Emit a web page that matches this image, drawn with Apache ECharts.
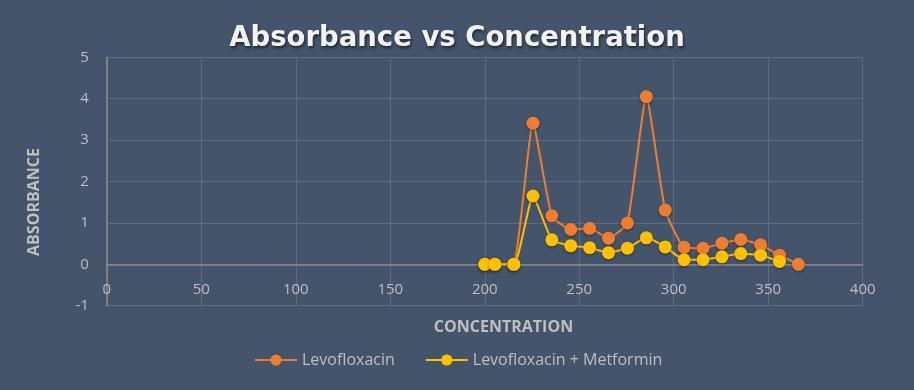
<!DOCTYPE html>
<html><head><meta charset="utf-8">
<script src="https://cdn.jsdelivr.net/npm/echarts@6/dist/echarts.min.js"></script>
<style>html,body{margin:0;padding:0;background:#44546A;}#c{width:914px;height:390px;}</style>
</head><body><div id="c"></div>
<script>
const levoX = [200, 205, 215, 225.5, 235.5, 245.5, 255.5, 265.5, 275.5, 285.5, 295.5, 305.5, 315.5, 325.5, 335.5, 346, 356, 366];
const levoY = [0, 0, 0, 3.41, 1.17, 0.84, 0.87, 0.63, 1.00, 4.05, 1.31, 0.41, 0.39, 0.51, 0.60, 0.47, 0.22, 0.0];
const metX = [200, 205.5, 215.5, 225.5, 235.5, 245.5, 255.5, 265.5, 275.5, 285.5, 295.5, 305.5, 315.5, 325.5, 335.5, 346, 356];
const metY = [0, 0, 0, 1.65, 0.59, 0.45, 0.40, 0.28, 0.39, 0.64, 0.42, 0.11, 0.11, 0.18, 0.26, 0.22, 0.07];
const seriesNames = ['Levofloxacin', 'Levofloxacin + Metformin'];
const titleText = 'Absorbance vs Concentration';
const xAxisTitle = 'CONCENTRATION';
const yAxisTitle = 'ABSORBANCE';

const font = 'Open Sans';
const labelColor = '#BFBFBF';
const chart = echarts.init(document.getElementById('c'));
function pairs(xs, ys){ return xs.map((x,i)=>[x, ys[i]]); }
chart.setOption({
  backgroundColor: '#44546A',
  animation: false,
  title: {
    text: titleText, left: 'center', top: 20,
    textStyle: { color: '#F2F2F2', fontFamily: 'DejaVu Sans', fontWeight: 'bold', fontSize: 27.5,
      textShadowColor: 'rgba(0,0,0,0.55)', textShadowBlur: 3, textShadowOffsetX: 1, textShadowOffsetY: 2 }
  },
  grid: { left: 106.8, right: 51.3, top: 57.3, bottom: 84.3 },
  legend: {
    data: seriesNames, top: 347, left: 249, itemWidth: 42, itemHeight: 14, itemGap: 30,
    textStyle: { color: labelColor, fontFamily: font, fontSize: 16 }
  },
  graphic: [
    { type: 'text', x: 503.5, y: 327, style: { text: xAxisTitle, fill: labelColor,
      font: 'bold 16px "Open Sans"', align: 'center', verticalAlign: 'middle' } },
    { type: 'text', x: 34, y: 202, rotation: Math.PI / 2, style: { text: yAxisTitle, fill: labelColor,
      font: 'bold 16px "Open Sans"', align: 'center', verticalAlign: 'middle' } }
  ],
  xAxis: {
    type: 'value', min: 0, max: 400, interval: 50,
    axisLine: { onZero: true, lineStyle: { color: '#8C8C8C', width: 1.5 } },
    axisTick: { show: false },
    axisLabel: { color: labelColor, fontFamily: font, fontSize: 15, margin: -23 },
    splitLine: { lineStyle: { color: '#5D6C81', width: 1 } }
  },
  yAxis: {
    type: 'value', min: -1, max: 5, interval: 1,
    axisLine: { show: true, lineStyle: { color: '#8C8C8C', width: 1.5 } },
    axisTick: { show: false },
    axisLabel: { color: labelColor, fontFamily: font, fontSize: 15, margin: 18 },
    splitLine: { lineStyle: { color: '#5D6C81', width: 1 } }
  },
  series: [
    { name: seriesNames[0], type: 'line', data: pairs(levoX, levoY), smooth: 0.15,
      symbol: 'circle', symbolSize: 13,
      lineStyle: { color: '#ED7D31', width: 2 },
      itemStyle: { color: '#ED7D31', shadowColor: 'rgba(0,0,0,0.4)', shadowBlur: 3, shadowOffsetY: 1 } },
    { name: seriesNames[1], type: 'line', data: pairs(metX, metY), smooth: 0.15,
      symbol: 'circle', symbolSize: 13,
      lineStyle: { color: '#FFC000', width: 2 },
      itemStyle: { color: '#FFC000', shadowColor: 'rgba(0,0,0,0.4)', shadowBlur: 3, shadowOffsetY: 1 } }
  ]
});
</script></body></html>
